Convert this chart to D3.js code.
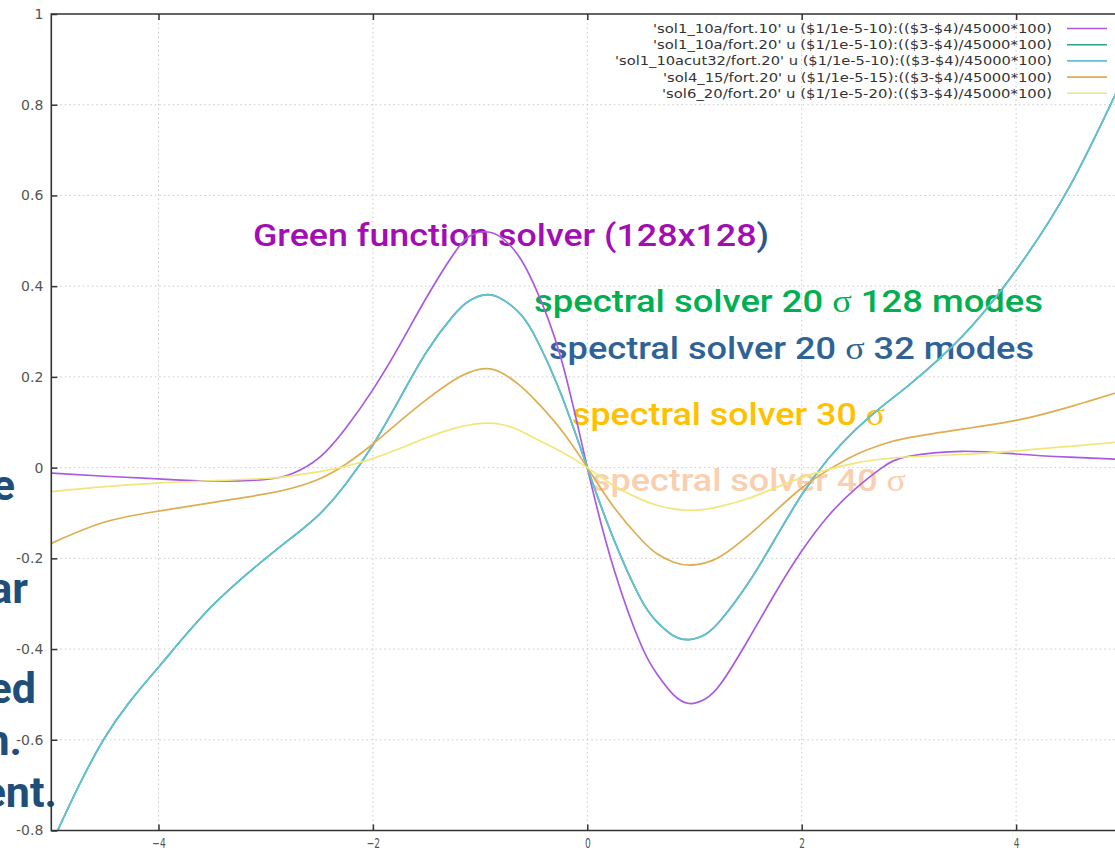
<!DOCTYPE html>
<html>
<head>
<meta charset="utf-8">
<script src="https://cdn.jsdelivr.net/npm/d3@7"></script>
<style>
  body { margin: 0; background: #fff; }
  svg { display: block; }
</style>
</head>
<body>
<svg id="chart" width="1115" height="853"></svg>
<script>
// ---------------------------------------------------------------------------
// Data
// ---------------------------------------------------------------------------
const xs = [-5, -4.5, -4, -3.5, -3, -2.75, -2.5, -2.25, -2, -1.75, -1.5, -1.25, -1.1, -0.95, -0.8, -0.65, -0.5, -0.25,
            0, 0.25, 0.5, 0.65, 0.8, 0.95, 1.1, 1.25, 1.5, 1.75, 2, 2.25, 2.5, 2.75, 3, 3.5, 4, 4.5, 5];

// sol1_10a/fort.10 : Green function solver
const greenFn = [-0.012, -0.019, -0.025, -0.030, -0.026, -0.013, 0.022, 0.088, 0.172, 0.27, 0.375, 0.47, 0.51, 0.52, 0.507, 0.47, 0.405, 0.245,
                 0, -0.225, -0.39, -0.455, -0.5, -0.52, -0.51, -0.475, -0.38, -0.278, -0.184, -0.106, -0.047, 0.0, 0.025, 0.036, 0.030, 0.023, 0.018];

// sol1_10acut32/fort.20 : spectral 20 sigma, 32 modes
const spec20m32 = [-0.83, -0.595, -0.44, -0.305, -0.20, -0.153, -0.103, -0.035, 0.05, 0.152, 0.255, 0.335, 0.368, 0.381, 0.372, 0.345, 0.295, 0.165,
                   0, -0.16, -0.29, -0.34, -0.37, -0.379, -0.368, -0.335, -0.255, -0.158, -0.06, 0.02, 0.083, 0.135, 0.182, 0.29, 0.435, 0.62, 0.86];

// sol1_10a/fort.20 : spectral 20 sigma, 128 modes (sits right under the 32-mode curve)
const spec20m128 = [-0.83, -0.595, -0.44, -0.305, -0.20, -0.153, -0.103, -0.035, 0.05, 0.152, 0.255, 0.335, 0.368, 0.381, 0.372, 0.345, 0.295, 0.165,
                    0, -0.16, -0.29, -0.34, -0.37, -0.379, -0.368, -0.335, -0.255, -0.158, -0.06, 0.02, 0.083, 0.135, 0.182, 0.29, 0.435, 0.62, 0.86];

// sol4_15/fort.20 : spectral 30 sigma
const spec30 = [-0.167, -0.12, -0.096, -0.077, -0.058, -0.045, -0.025, 0.008, 0.052, 0.102, 0.15, 0.192, 0.21, 0.218, 0.209, 0.185, 0.152, 0.085,
                0, -0.088, -0.158, -0.19, -0.208, -0.215, -0.21, -0.195, -0.15, -0.097, -0.045, -0.005, 0.028, 0.051, 0.066, 0.085, 0.104, 0.134, 0.17];

// sol6_20/fort.20 : spectral 40 sigma
const spec40 = [-0.053, -0.042, -0.034, -0.029, -0.024, -0.018, -0.009, 0.003, 0.02, 0.042, 0.066, 0.086, 0.094, 0.098, 0.095, 0.084, 0.066, 0.036,
                0, -0.04, -0.07, -0.083, -0.091, -0.094, -0.092, -0.085, -0.068, -0.045, -0.022, -0.004, 0.01, 0.019, 0.024, 0.029, 0.037, 0.047, 0.057];

const legendLabels = [
  "'sol1_10a/fort.10' u ($1/1e-5-10):(($3-$4)/45000*100)",
  "'sol1_10a/fort.20' u ($1/1e-5-10):(($3-$4)/45000*100)",
  "'sol1_10acut32/fort.20' u ($1/1e-5-10):(($3-$4)/45000*100)",
  "'sol4_15/fort.20' u ($1/1e-5-15):(($3-$4)/45000*100)",
  "'sol6_20/fort.20' u ($1/1e-5-20):(($3-$4)/45000*100)"
];
const legendWidths = [399, 399, 437, 389, 390];
const seriesValues = [greenFn, spec20m128, spec20m32, spec30, spec40];
const seriesColors = ["#a95ae0", "#2aa583", "#66c0d4", "#dfad4f", "#f0e67a"];

const xTicks = [-4, -2, 0, 2, 4];
const yTicks = [-0.8, -0.6, -0.4, -0.2, 0, 0.2, 0.4, 0.6, 0.8, 1];
const yTickLabels = ["-0.8", "-0.6", "-0.4", "-0.2", "0", "0.2", "0.4", "0.6", "0.8", "1"];

// slide annotations laid over the plot
const notes = [
  [["Green function solver (128x128", "#a30db4"], [")", "#2d5687"]],
  [["spectral solver 20 ", "#00b050"], ["σ", "#00b050", "serif"], [" 128 modes", "#00b050"]],
  [["spectral solver 20 ", "#2f6396"], ["σ", "#2f6396", "serif"], [" 32 modes", "#2f6396"]],
  [["spectral solver 30 ", "#ffc000"], ["σ", "#ffc000", "serif"]],
  [["spectral solver 40 ", "#f9cfb0"], ["σ", "#f9cfb0", "serif"]]
];
// left edge, baseline, width of each annotation
const notePos = [[253, 246, 516], [534, 312, 509], [549, 359, 485], [572, 425, 313], [592, 491, 314]];

// fragments of a slide text box cut at the left border
const fragments = ["e", "ar", "ed", "n.", "ent."];
const fragmentPos = [[15, 500], [28, 603], [36, 703], [22, 755], [57, 807]];

// ---------------------------------------------------------------------------
// Layout
// ---------------------------------------------------------------------------
const svg = d3.select("#chart");
const plotL = 51.3, plotR = 1123.3, plotT = 14, plotB = 830.5;

const x = d3.scaleLinear().domain([-5, 5]).range([plotL, plotR]);
const y = d3.scaleLinear().domain([-0.8, 1]).range([plotB, plotT]);

svg.append("defs").append("clipPath").attr("id", "plot-clip")
  .append("rect")
  .attr("x", plotL).attr("y", plotT)
  .attr("width", plotR - plotL).attr("height", plotB - plotT);

// grid
const grid = svg.append("g")
  .attr("stroke", "#c9c9c9")
  .attr("stroke-width", 1)
  .attr("stroke-dasharray", "1.5,3");

grid.selectAll(".vgrid")
  .data(xTicks)
  .join("line")
  .attr("class", "vgrid")
  .attr("x1", d => x(d)).attr("x2", d => x(d))
  .attr("y1", plotT).attr("y2", plotB);

grid.selectAll(".hgrid")
  .data(yTicks.slice(1, -1))
  .join("line")
  .attr("class", "hgrid")
  .attr("x1", plotL).attr("x2", plotR)
  .attr("y1", d => y(d)).attr("y2", d => y(d));

// annotations (under the curves)
const noteText = svg.append("g")
  .style("font-family", "Roboto, 'Noto Sans', sans-serif")
  .style("font-weight", 500)
  .style("font-size", "31px");

notes.forEach((parts, i) => {
  const [nx, ny, nw] = notePos[i];
  const t = noteText.append("text")
    .attr("x", nx).attr("y", ny)
    .attr("textLength", nw)
    .attr("lengthAdjust", "spacingAndGlyphs")
    .style("white-space", "pre");
  parts.forEach(p => {
    const s = t.append("tspan").attr("fill", p[1]).text(p[0]);
    if (p[2]) s.style("font-family", "'Liberation Serif', 'DejaVu Serif', serif").style("font-weight", 400);
  });
});

svg.append("g")
  .style("font-family", "Roboto, 'Noto Sans', sans-serif")
  .style("font-weight", 700)
  .style("font-size", "43px")
  .attr("fill", "#1f4e79")
  .selectAll("text")
  .data(fragments)
  .join("text")
  .attr("text-anchor", "end")
  .attr("x", (d, i) => fragmentPos[i][0])
  .attr("y", (d, i) => fragmentPos[i][1])
  .text(d => d);

// curves
const line = d3.line()
  .x((d, i) => x(xs[i]))
  .y(d => y(d))
  .curve(d3.curveNatural);

svg.append("g")
  .attr("clip-path", "url(#plot-clip)")
  .selectAll("path")
  .data(seriesValues)
  .join("path")
  .attr("d", d => line(d))
  .attr("fill", "none")
  .attr("stroke", (d, i) => seriesColors[i])
  .attr("stroke-width", 1.7);

// axes (gnuplot style: inward ticks)
const yAxis = svg.append("g")
  .attr("transform", `translate(${plotL},0)`)
  .call(d3.axisLeft(y).tickValues(yTicks).tickSize(-6).tickSizeOuter(0).tickPadding(8)
    .tickFormat((d, i) => yTickLabels[i]));

const xAxis = svg.append("g")
  .attr("transform", `translate(0,${plotB})`)
  .call(d3.axisBottom(x).tickValues(xTicks).tickSize(-6).tickSizeOuter(0).tickPadding(8)
    .tickFormat(d3.format("d")));

const xTop = svg.append("g")
  .attr("transform", `translate(0,${plotT})`)
  .call(d3.axisTop(x).tickValues(xTicks).tickSize(-6).tickSizeOuter(0).tickFormat(""));

[yAxis, xAxis, xTop].forEach(g => {
  g.select(".domain").remove();
  g.selectAll(".tick line").attr("stroke", "#333").attr("stroke-width", 1.5);
  g.selectAll(".tick text")
    .attr("fill", "#555")
    .style("font-family", "'DejaVu Sans', sans-serif")
    .style("font-size", "14px");
});
xAxis.selectAll(".tick text").attr("transform", "scale(0.65,1)");

// frame (left, top, bottom)
svg.append("path")
  .attr("d", `M${plotR},${plotT}H${plotL}V${plotB}H${plotR}`)
  .attr("fill", "none")
  .attr("stroke", "#333")
  .attr("stroke-width", 1.6);

// legend, top right
const legend = svg.append("g")
  .style("font-family", "'DejaVu Sans', sans-serif")
  .style("font-size", "13px");

legendLabels.forEach((label, i) => {
  const cy = 28.5 + i * 16.2;
  legend.append("text")
    .attr("x", 1052).attr("y", cy + 4.5)
    .attr("text-anchor", "end")
    .attr("textLength", legendWidths[i])
    .attr("lengthAdjust", "spacingAndGlyphs")
    .attr("fill", "#333")
    .text(label);
  legend.append("line")
    .attr("x1", 1067).attr("x2", 1107)
    .attr("y1", cy).attr("y2", cy)
    .attr("stroke", seriesColors[i])
    .attr("stroke-width", 1.6);
});
</script>
</body>
</html>
